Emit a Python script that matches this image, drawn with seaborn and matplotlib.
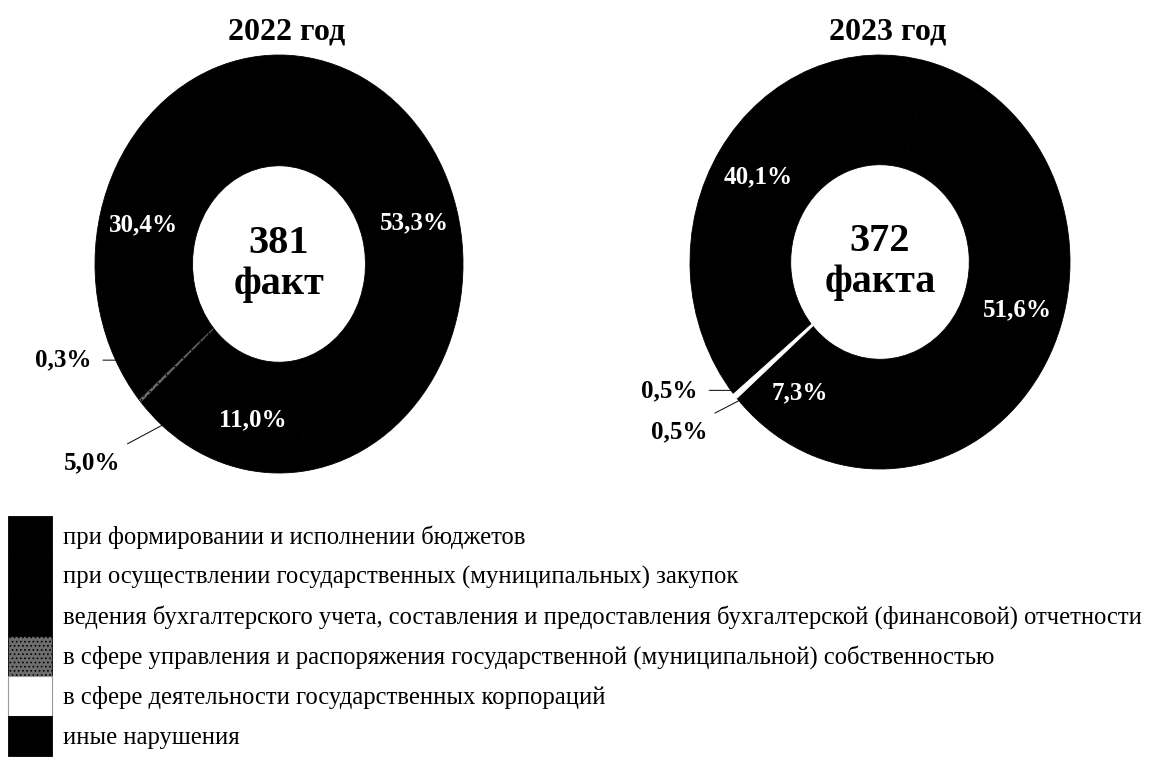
import numpy as np
import matplotlib.pyplot as plt
import seaborn as sns

# legend categories (order of the legend, clockwise in the rings)
categories = [
    "при формировании и исполнении бюджетов",
    "при осуществлении государственных (муниципальных) закупок",
    "ведения бухгалтерского учета, составления и предоставления бухгалтерской (финансовой) отчетности",
    "в сфере управления и распоряжения государственной (муниципальной) собственностью",
    "в сфере деятельности государственных корпораций",
    "иные нарушения",
]
share_2022 = [53.3, 11.0, 5.0, 0.3, 0.0, 30.4]
share_2023 = [51.6, 7.3, 0.5, 0.0, 0.5, 40.1]
totals = [381, 372]
total_words = ["факт", "факта"]
years = ["2022 год", "2023 год"]

colors = ["black", "black", "black", "#6e6e6e", "white", "black"]
hatches = [None, None, None, "....", None, None]

sns.set_theme(style="white")
plt.rcParams['font.family'] = ['Liberation Serif', 'DejaVu Serif']
plt.rcParams['text.color'] = 'black'
plt.rcParams['hatch.linewidth'] = 0.7

W, H = 1149, 758
fig = plt.figure(figsize=(W / 100, H / 100), dpi=100)


def px_axes(left, top, w, h):
    return fig.add_axes([left / W, 1 - (top + h) / H, w / W, h / H])


def draw_donut(ax, shares, start, total, word, year, outside):
    wedges, _ = ax.pie(shares, colors=colors, startangle=start, counterclock=False,
                       radius=1, wedgeprops=dict(width=0.53, linewidth=0.6))
    for w, c, h in zip(wedges, colors, hatches):
        if h:
            w.set_hatch(h)
            w.set_edgecolor("black")
        else:
            w.set_edgecolor(c)
    ax.set_aspect("auto")
    ax.set_xlim(-1, 1)
    ax.set_ylim(-1, 1)

    for i, (w, v) in enumerate(zip(wedges, shares)):
        if v == 0:
            continue
        mid = np.deg2rad((w.theta1 + w.theta2) / 2)
        pct = f"{v:.1f}%".replace(".", ",")
        if i in outside:
            tx, ty, flat = outside[i]
            # flat leaders run level from the label to the ring edge
            xy = (-np.sqrt(1 - ty ** 2), ty) if flat else (np.cos(mid), np.sin(mid))
            ax.annotate(pct, xy=xy, xytext=(tx, ty),
                        ha="right", va="center", fontsize=18, fontweight="bold",
                        arrowprops=dict(arrowstyle="-", lw=0.7, color="black",
                                        shrinkA=6, shrinkB=0))
        else:
            ax.text(0.76 * np.cos(mid), 0.76 * np.sin(mid), pct, color="white",
                    ha="center", va="center", fontsize=18, fontweight="bold")

    ax.text(0, 0, f"{total}\n{word}", ha="center", va="center",
            fontsize=29, fontweight="bold", linespacing=1.15)
    ax.text(0.04, 1.11, year, ha="center", va="center", fontsize=23, fontweight="bold")
    return wedges


ax1 = px_axes(95, 55, 368, 418)
ax2 = px_axes(690, 55, 380, 414)

wedges = draw_donut(ax1, share_2022, 111, totals[0], total_words[0], years[0],
                    {3: (-1.02, -0.46, True), 2: (-0.86, -0.95, False)})
draw_donut(ax2, share_2023, 75, totals[1], total_words[1], years[1],
           {4: (-0.96, -0.62, True), 2: (-0.91, -0.82, False)})

# legend: size the text so the longest line spans the page width
renderer = fig.canvas.get_renderer()
probe = fig.text(0, 0, max(categories, key=len), fontsize=10)
w10 = probe.get_window_extent(renderer).width
probe.remove()
leg_fs = 10 * 1078 / w10
pt = 0.72  # points per pixel
row_pt = 40 * pt
# legend handle box height is fs*hh minus a descent of 0.35*fs*(hh-0.7)
hh = (row_pt - 0.245 * leg_fs) / (0.65 * leg_fs)
leg = fig.legend(wedges, categories, loc="upper left",
                 bbox_to_anchor=(8 / W, 1 - 516 / H), bbox_transform=fig.transFigure,
                 frameon=False, borderpad=0, borderaxespad=0, labelspacing=0,
                 handlelength=44 * pt / leg_fs, handleheight=hh,
                 handletextpad=11 * pt / leg_fs, fontsize=leg_fs)
leg.get_patches()[4].set_edgecolor("#9a9a9a")
leg.get_patches()[4].set_linewidth(0.8)

fig.savefig("out.png", dpi=100)
